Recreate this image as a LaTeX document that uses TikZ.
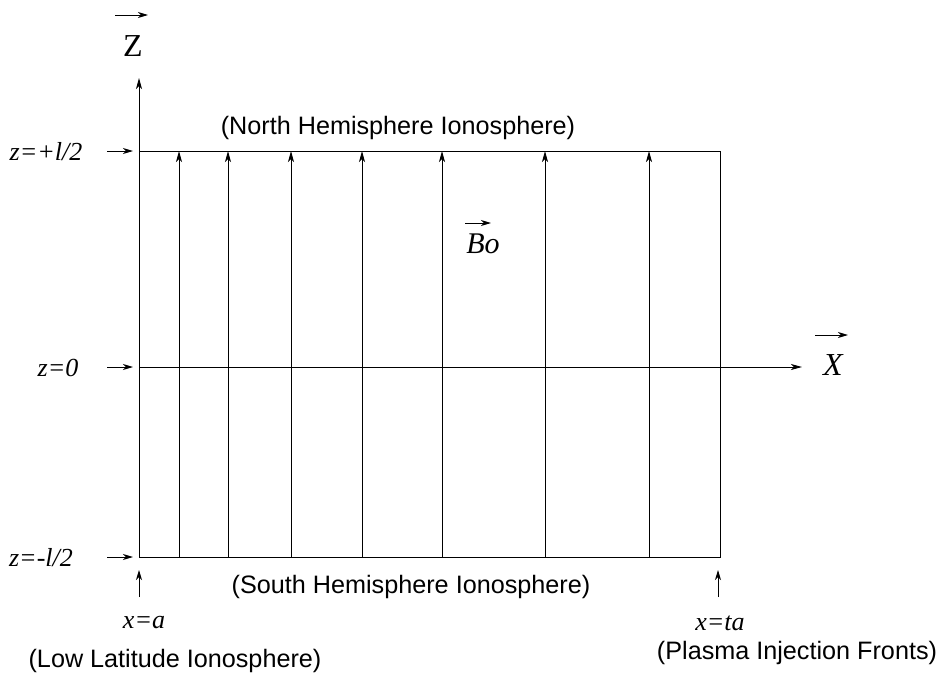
\documentclass[tikz,border=0pt]{standalone}
\usepackage{fontspec}
\setmainfont{Liberation Serif}
\newfontfamily\labsans{Liberation Sans}
\usetikzlibrary{arrows.meta}
\tikzset{
  ln/.style={line width=1pt},
  arr/.style={ln,-{Stealth[length=11pt,width=6pt,inset=3pt]}},
  sarr/.style={ln,-{Stealth[length=10pt,width=6pt,inset=3pt]}},
  mlab/.style={inner sep=0pt,font=\fontsize{26}{30}\selectfont\itshape},
  big/.style={inner sep=0pt,font=\fontsize{32}{36}\selectfont},
  slab/.style={inner sep=0pt,font=\fontsize{25.2}{29}\selectfont\labsans},
}
\begin{document}
\begin{tikzpicture}[x=1pt,y=-1pt]
\useasboundingbox (0,0) rectangle (940,675);
% frame corners
\coordinate (bl) at (139,557);
\coordinate (tl) at (139,151);
\coordinate (tr) at (720,151);
\coordinate (br) at (720,557);
\coordinate (ztip) at (139,78);
\coordinate (xo) at (139,367);
\coordinate (xtip) at (802,367);
% axes and box
\draw[arr] (bl) -- (ztip);
\draw[ln] (tl) -- (tr) -- (br) -- (bl);
\draw[arr] (xo) -- (xtip);
% field lines
\foreach \fx [count=\k] in {179,228,291,362,442,545,649}{
  \coordinate (fb\k) at (\fx,557);
  \coordinate (ft\k) at (\fx,151);
  \draw[arr] (fb\k) -- (ft\k);
}
% axis labels
\node[big] (Zl) at (133,46) {Z};
\coordinate (zva) at (115,15); \coordinate (zvb) at (148,15);
\draw[sarr] (zva) -- (zvb);
\node[big,font=\fontsize{32}{36}\selectfont\itshape] (Xl) at (833,365) {X};
\coordinate (xva) at (815,335); \coordinate (xvb) at (848,335);
\draw[sarr] (xva) -- (xvb);
\node[big,font=\fontsize{30}{34}\selectfont\itshape] (Bl) at (483,244) {Bo};
\coordinate (bva) at (465,223); \coordinate (bvb) at (491,223);
\draw[sarr] (bva) -- (bvb);
% z labels with pointer arrows
\node[mlab] (zp) at (46,152) {z=+l/2};
\node[mlab] (z0) at (58,368) {z=0};
\node[mlab] (zm) at (41,558) {z=-l/2};
\coordinate (pa1) at (107,151); \coordinate (pb1) at (133,151);
\coordinate (pa2) at (107,367); \coordinate (pb2) at (133,367);
\coordinate (pa3) at (107,557); \coordinate (pb3) at (133,557);
\draw[sarr] (pa1) -- (pb1);
\draw[sarr] (pa2) -- (pb2);
\draw[sarr] (pa3) -- (pb3);
% bottom pointer arrows
\coordinate (ua1) at (139,597); \coordinate (ub1) at (139,570);
\coordinate (ua2) at (718,597); \coordinate (ub2) at (718,570);
\draw[sarr] (ua1) -- (ub1);
\draw[sarr] (ua2) -- (ub2);
\node[mlab] (xa) at (144,623) {x=a};
\node[mlab] (xta) at (720,623) {x=ta};
% hemisphere labels
\node[slab] (north) at (398,128) {(North Hemisphere Ionosphere)};
\node[slab] (south) at (411,587) {(South Hemisphere Ionosphere)};
\node[slab] (low) at (175,661) {(Low Latitude Ionosphere)};
\node[slab] (plasma) at (797,653) {(Plasma Injection Fronts)};
\end{tikzpicture}
\end{document}
